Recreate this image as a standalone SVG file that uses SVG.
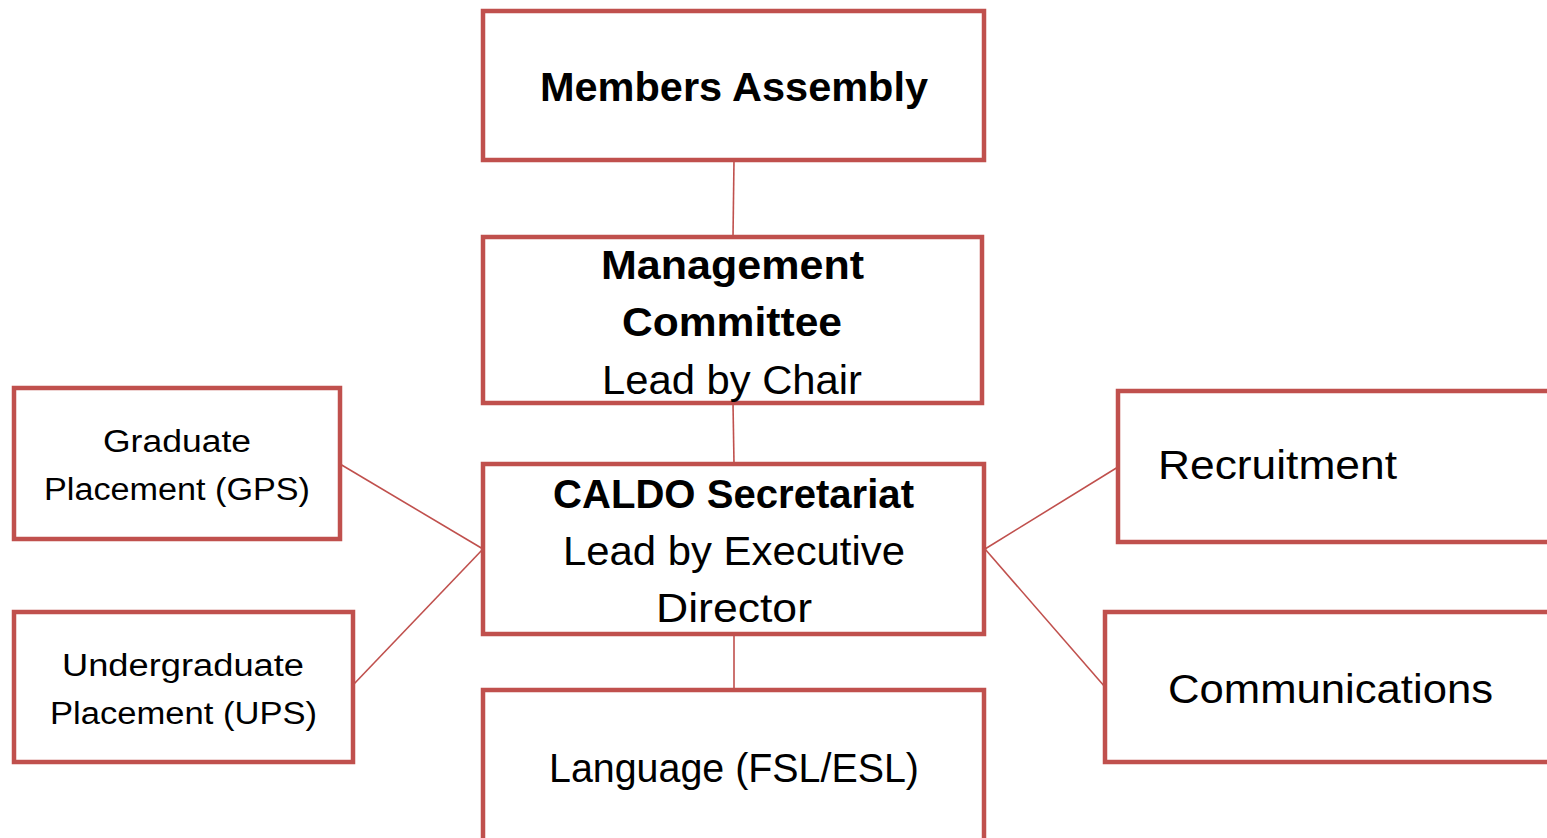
<svg xmlns="http://www.w3.org/2000/svg" width="1547" height="838" viewBox="0 0 1547 838">
<style>
.box{fill:#fff;stroke:#C0504D;stroke-width:4.5}
.con line{stroke:#C0504D;stroke-width:1.6}
text{font-family:"Liberation Sans","Open Sans",sans-serif;fill:#000;text-anchor:middle}
.b{font-weight:bold;font-size:40px}
.r{font-size:40px}
.s{font-size:31px}
</style>
<rect width="1547" height="838" fill="#fff"/>
<g class="con" id="connectors">
<line x1="734" y1="160" x2="733" y2="237"/>
<line x1="733" y1="403" x2="734" y2="464"/>
<line x1="734" y1="634" x2="734" y2="690"/>
<line x1="340" y1="464" x2="483" y2="549"/>
<line x1="353" y1="685" x2="483" y2="549"/>
<line x1="985" y1="549" x2="1118" y2="467"/>
<line x1="985" y1="549" x2="1105" y2="687"/>
</g>
<g id="members">
<rect class="box" x="483" y="11" width="501" height="149"/>
<text class="b" x="734" y="101" textLength="388" lengthAdjust="spacingAndGlyphs">Members Assembly</text>
</g>
<g id="management">
<rect class="box" x="483" y="237" width="499" height="166"/>
<text class="b" x="732.5" y="279" textLength="263" lengthAdjust="spacingAndGlyphs">Management</text>
<text class="b" x="732" y="336" textLength="220" lengthAdjust="spacingAndGlyphs">Committee</text>
<text class="r" x="732" y="394" textLength="260" lengthAdjust="spacingAndGlyphs">Lead by Chair</text>
</g>
<g id="caldo">
<rect class="box" x="483" y="464" width="501" height="170"/>
<text class="b" x="733.5" y="508" textLength="361" lengthAdjust="spacingAndGlyphs">CALDO Secretariat</text>
<text class="r" x="734" y="565" textLength="342" lengthAdjust="spacingAndGlyphs">Lead by Executive</text>
<text class="r" x="734" y="622" textLength="156" lengthAdjust="spacingAndGlyphs">Director</text>
</g>
<g id="language">
<rect class="box" x="483" y="690" width="501" height="160"/>
<text class="r" x="734" y="782" textLength="370" lengthAdjust="spacingAndGlyphs">Language (FSL/ESL)</text>
</g>
<g id="graduate">
<rect class="box" x="14" y="388" width="326" height="151"/>
<text class="s" x="177" y="452" textLength="148" lengthAdjust="spacingAndGlyphs">Graduate</text>
<text class="s" x="177" y="500" textLength="266" lengthAdjust="spacingAndGlyphs">Placement (GPS)</text>
</g>
<g id="undergraduate">
<rect class="box" x="14" y="612" width="339" height="150"/>
<text class="s" x="183" y="676" textLength="242" lengthAdjust="spacingAndGlyphs">Undergraduate</text>
<text class="s" x="183.5" y="724" textLength="267" lengthAdjust="spacingAndGlyphs">Placement (UPS)</text>
</g>
<g id="recruitment">
<rect class="box" x="1118" y="391" width="450" height="151"/>
<text class="r" x="1277.5" y="479" textLength="239" lengthAdjust="spacingAndGlyphs">Recruitment</text>
</g>
<g id="communications">
<rect class="box" x="1105" y="612" width="460" height="150"/>
<text class="r" x="1330.5" y="703" textLength="325" lengthAdjust="spacingAndGlyphs">Communications</text>
</g>
</svg>
